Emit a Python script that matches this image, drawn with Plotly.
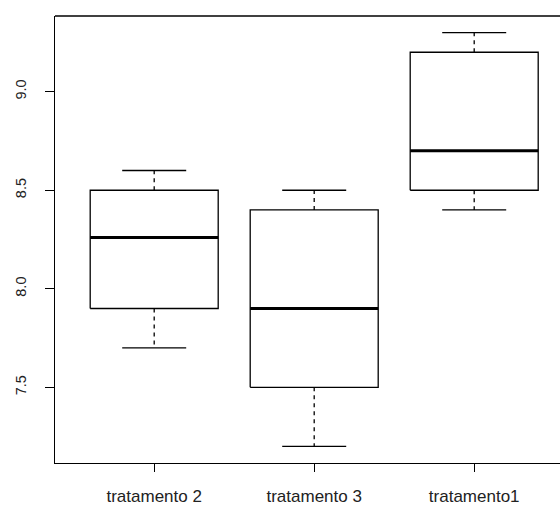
import plotly.graph_objects as go

categories = ["tratamento 2", "tratamento 3", "tratamento1"]
lower_whisker = [7.7, 7.2, 8.4]
q1 = [7.9, 7.5, 8.5]
median = [8.26, 7.9, 8.7]
q3 = [8.5, 8.4, 9.2]
upper_whisker = [8.6, 8.5, 9.3]
y_ticks = [7.5, 8.0, 8.5, 9.0]
y_tick_labels = ["7.5", "8.0", "8.5", "9.0"]

BOX_HALF = 0.4
CAP_HALF = 0.2
LINE = "#000000"

fig = go.Figure()
for i, cat in enumerate(categories):
    x = i + 1
    fig.add_trace(go.Scatter(
        x=[x - BOX_HALF, x + BOX_HALF, x + BOX_HALF, x - BOX_HALF, x - BOX_HALF],
        y=[q1[i], q1[i], q3[i], q3[i], q1[i]],
        mode="lines", line=dict(color=LINE, width=1.3), hoverinfo="skip", showlegend=False))
    fig.add_trace(go.Scatter(
        x=[x - BOX_HALF, x + BOX_HALF], y=[median[i], median[i]],
        mode="lines", line=dict(color=LINE, width=3), showlegend=False))
    fig.add_trace(go.Scatter(
        x=[x, x, None, x, x], y=[q3[i], upper_whisker[i], None, q1[i], lower_whisker[i]],
        mode="lines", line=dict(color=LINE, width=1.3, dash="4px,4px"), showlegend=False))
    fig.add_trace(go.Scatter(
        x=[x - CAP_HALF, x + CAP_HALF, None, x - CAP_HALF, x + CAP_HALF],
        y=[upper_whisker[i], upper_whisker[i], None, lower_whisker[i], lower_whisker[i]],
        mode="lines", line=dict(color=LINE, width=1.3), showlegend=False))

ymin, ymax = 7.116, 9.384
fig.update_layout(
    width=560, height=505,
    margin=dict(l=55, r=0, t=16, b=42),
    plot_bgcolor="white", paper_bgcolor="white",
    font=dict(family="Liberation Sans, Arial, sans-serif", size=12, color="#222222"),
    xaxis=dict(range=[0.38, 0.38 + 505 / 160], tickvals=[1, 2, 3], ticktext=categories,
               showgrid=False, zeroline=False, ticks="outside", ticklen=8, tickwidth=1.3,
               tickcolor=LINE, showline=True, linecolor=LINE, linewidth=1.3,
               tickfont=dict(size=17), ticklabelstandoff=9, automargin=False),
    yaxis=dict(range=[ymin, ymax], tickvals=y_ticks, ticktext=y_tick_labels,
               showgrid=False, zeroline=False, ticks="outside", ticklen=9, tickwidth=1.3,
               tickcolor=LINE, showline=True, linecolor=LINE, linewidth=1.3,
               tickangle=-90, tickfont=dict(size=14.5), ticklabelstandoff=13, automargin=False),
    shapes=[dict(type="line", xref="paper", yref="paper", x0=0, x1=1, y0=1, y1=1,
                 line=dict(color=LINE, width=1.3))],
)
fig.write_html(
    "out.html",
    config={"displayModeBar": False},
    post_script="document.body.style.margin='0';document.body.style.overflow='hidden';",
)
